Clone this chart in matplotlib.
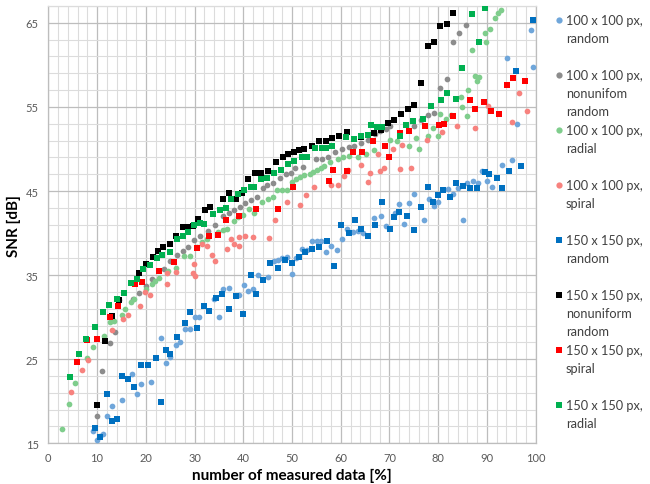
import matplotlib
matplotlib.use("Agg")
import matplotlib.pyplot as plt
from matplotlib.lines import Line2D

plt.rcParams['font.family'] = ['Lato', 'DejaVu Sans']

# 100 x 100 px, random
r100_x = [9.1, 10.05, 10.6, 11.2, 12.0, 13.1, 15.2, 17.1, 18.1, 19.1, 21.1, 23.1, 24.1, 25.0, 26.2,
          27.0, 28.0, 29.1, 30.1, 31.0, 33.9, 35.1, 35.9, 37.1, 39.1, 40.2, 41.0, 41.9, 43.1, 45.1,
          46.3, 47.2, 48.0, 49.0, 50.1, 50.8, 52.0, 53.1, 54.1, 55.1, 56.0, 57.0, 58.1, 59.2, 60.2,
          61.2, 62.6, 63.6, 64.6, 66.9, 68.3, 69.2, 71.1, 72.0, 73.0, 74.1, 75.1, 77.0, 78.2, 79.2,
          80.0, 82.1, 83.1, 84.1, 85.1, 86.0, 87.1, 88.2, 89.0, 90.1, 91.1, 93.1, 94.1, 95.1, 96.1,
          99.0, 99.5]
r100_y = [16.5, 15.4, 15.9, 16.1, 18.3, 19.4, 20.2, 23.3, 20.9, 22.1, 22.3, 27.5, 24.5, 25.3, 26.7,
          27.0, 28.6, 28.6, 30.0, 30.0, 32.1, 30.0, 33.3, 33.5, 32.6, 33.8, 33.1, 33.3, 35.0, 34.8,
          36.7, 36.8, 37.0, 37.2, 35.1, 37.0, 38.1, 38.0, 39.0, 39.0, 39.0, 37.7, 38.5, 38.0, 39.3,
          40.5, 40.1, 40.3, 40.0, 41.8, 42.0, 40.8, 42.4, 43.5, 41.1, 43.6, 44.6, 41.6, 44.1, 43.2,
          43.7, 45.2, 44.6, 45.4, 41.6, 45.9, 46.2, 45.9, 47.4, 46.2, 45.5, 48.1, 60.8, 48.7, 53.0,
          64.1, 59.8]

# 100 x 100 px, nonuniform random
n100_x = [10.05, 11.1, 12.7, 13.7, 14.5, 17.4, 18.7, 20.0, 21.2, 23.8, 25.0, 26.5, 27.7, 28.7, 29.9,
          31.1, 32.8, 34.2, 35.8, 37.1, 38.2, 39.3, 40.4, 41.6, 42.9, 44.0, 44.9, 46.2, 47.5, 48.7,
          49.7, 50.7, 52.2, 54.9, 56.2, 57.3, 58.8, 60.3, 61.6, 62.8, 64.1, 65.5, 67.0, 68.1, 69.3,
          70.2, 75.1, 76.4, 77.8, 79.1, 80.4, 81.8, 83.1, 84.3, 85.6]
n100_y = [18.2, 23.6, 26.9, 28.2, 32.0, 32.2, 32.9, 33.7, 34.5, 35.7, 36.7, 37.4, 37.9, 38.4, 39.2,
          39.7, 40.3, 41.0, 42.0, 42.4, 42.8, 43.1, 43.6, 43.9, 44.3, 45.4, 45.7, 46.0, 46.5, 47.0,
          47.2, 47.7, 47.9, 48.8, 48.8, 49.1, 49.6, 50.0, 50.2, 50.4, 50.7, 51.1, 51.8, 52.1, 52.4,
          52.7, 52.7, 53.4, 54.0, 54.3, 57.2, 58.3, 62.7, 63.8, 64.7]

# 100 x 100 px, radial
a100_x = [2.75, 4.2, 5.5, 7.9, 9.2, 11.5, 12.7, 13.5, 15.1, 15.7, 17.0, 17.6, 20.0, 21.2, 21.9,
          22.7, 24.6, 26.3, 27.8, 29.1, 30.6, 31.5, 32.6, 34.8, 35.8, 36.6, 38.2, 39.0, 39.9, 41.2,
          42.1, 43.8, 45.0, 46.0, 46.9, 47.9, 48.9, 49.9, 50.8, 51.6, 52.5, 53.7, 54.4, 55.2, 56.0,
          56.6, 57.8, 59.5, 60.4, 61.6, 63.6, 65.2, 66.8, 70.2, 71.5, 74.0, 75.4, 76.1, 78.0, 78.9,
          80.0, 80.4, 81.5, 82.6, 84.7, 84.8, 85.8, 86.2, 86.9, 87.5, 88.0, 88.4, 89.6, 89.9, 90.6,
          91.6, 92.3, 92.9]
a100_y = [16.7, 19.7, 22.2, 25.2, 26.5, 27.8, 29.4, 29.6, 30.2, 31.0, 31.8, 32.1, 33.3, 34.0, 34.3,
          34.6, 35.5, 35.9, 37.3, 37.3, 38.4, 38.9, 39.3, 40.1, 40.4, 40.5, 41.4, 41.9, 42.2, 42.9,
          42.4, 43.7, 44.0, 44.3, 45.1, 45.1, 45.1, 46.1, 46.4, 46.7, 46.9, 47.0, 47.3, 47.5, 47.7,
          48.0, 48.4, 48.8, 49.1, 49.2, 49.0, 49.4, 49.9, 51.1, 50.9, 50.3, 51.3, 50.0, 51.5, 52.5,
          51.5, 54.2, 53.6, 54.0, 56.2, 55.0, 53.9, 57.0, 61.8, 58.7, 58.1, 58.6, 63.8, 62.7, 64.3,
          65.6, 66.2, 66.5]

# 100 x 100 px, spiral
s100_x = [4.6, 6.85, 8.2, 13.0, 15.4, 16.4, 18.8, 19.8, 20.9, 24.3, 24.4, 26.2, 29.6, 29.9, 30.1,
          31.6, 32.5, 33.5, 34.3, 36.7, 37.4, 38.0, 39.1, 39.2, 40.4, 41.9, 45.2, 46.6, 48.9, 51.6,
          52.9, 54.5, 58.0, 59.5, 60.7, 61.4, 64.1, 65.5, 66.1, 67.7, 68.1, 68.9, 70.8, 72.2, 72.5,
          74.4, 77.6, 80.8, 83.9, 87.6, 90.3, 95.1, 96.6, 98.2]
s100_y = [21.1, 23.7, 24.9, 28.5, 29.8, 30.2, 31.3, 33.0, 32.6, 33.9, 35.2, 35.4, 35.2, 36.3, 34.9,
          38.7, 38.5, 37.4, 36.7, 38.1, 39.3, 38.7, 38.5, 39.5, 39.6, 39.5, 39.4, 41.6, 43.7, 43.3,
          44.5, 45.5, 45.7, 45.7, 46.8, 47.5, 48.1, 46.1, 47.1, 49.4, 47.4, 47.7, 50.0, 47.6, 50.5,
          47.7, 51.1, 52.0, 52.7, 52.5, 55.1, 53.2, 56.6, 54.5]

# 150 x 150 px, random
r150_x = [9.6, 10.6, 12.0, 13.0, 14.0, 15.1, 16.4, 17.5, 19.0, 20.5, 22.1, 23.1, 24.1, 25.0, 26.5,
          28.0, 29.1, 30.5, 32.0, 33.0, 34.5, 35.6, 37.1, 38.5, 40.0, 41.5, 42.6, 44.1, 45.5, 47.1,
          48.6, 49.9, 51.5, 52.6, 54.0, 55.6, 57.1, 58.6, 60.1, 61.6, 63.0, 64.1, 65.5, 67.0, 68.5,
          70.1, 70.9, 72.0, 73.5, 75.0, 76.5, 78.0, 79.0, 80.0, 81.0, 82.5, 83.6, 85.0, 86.5, 88.0,
          89.5, 90.4, 92.0, 93.0, 94.6, 96.0, 97.0, 99.5]
r150_y = [16.8, 15.8, 20.9, 17.7, 17.9, 23.0, 22.7, 21.7, 24.3, 24.3, 25.2, 19.9, 26.1, 25.6, 27.6,
          29.3, 30.6, 28.7, 31.3, 30.7, 32.3, 32.8, 31.0, 32.5, 30.4, 35.0, 32.8, 34.4, 36.4, 35.9,
          36.8, 36.4, 37.2, 37.7, 38.1, 38.3, 39.0, 36.1, 40.9, 40.0, 41.5, 40.5, 39.7, 40.9, 43.7,
          40.5, 41.9, 42.5, 42.0, 40.4, 43.1, 45.5, 43.7, 44.5, 45.1, 44.3, 46.0, 45.6, 45.4, 45.4,
          47.3, 47.0, 46.6, 45.3, 47.4, 59.3, 48.0, 65.3]

# 150 x 150 px, nonuniform random
n150_x = [10.05, 11.6, 13.0, 14.5, 18.6, 20.0, 21.5, 22.6, 23.6, 25.0, 26.1, 27.7, 28.5, 29.7, 30.8,
          32.2, 33.2, 35.9, 37.1, 38.5, 39.7, 41.0, 42.4, 43.6, 45.1, 46.7, 48.1, 49.2, 50.4, 51.5,
          52.5, 54.0, 55.6, 56.9, 58.3, 59.7, 61.2, 64.1, 66.9, 68.3, 69.6, 70.9, 72.4, 73.7, 75.1,
          76.5, 77.8, 79.1, 80.4, 81.8, 83.0]
n150_y = [19.6, 27.2, 30.1, 32.0, 35.2, 36.3, 37.2, 37.9, 38.4, 38.7, 39.7, 40.7, 40.7, 40.8, 41.7,
          42.7, 43.1, 44.1, 44.8, 44.0, 44.8, 46.4, 47.2, 47.2, 47.4, 48.4, 49.0, 49.4, 49.6, 49.9,
          50.0, 50.3, 50.9, 51.0, 51.3, 51.5, 52.0, 51.4, 51.9, 52.3, 53.1, 53.4, 54.2, 54.8, 55.2,
          57.8, 62.2, 62.7, 64.6, 64.9, 66.2]

# 150 x 150 px, spiral
s150_x = [5.95, 8.0, 9.9, 12.7, 14.3, 17.8, 19.2, 22.8, 25.8, 30.6, 33.0, 34.9, 36.5, 39.1, 42.6,
          47.2, 50.3, 57.6, 58.5, 61.2, 62.5, 64.3, 66.6, 69.0, 70.0, 72.2, 73.9, 77.3, 80.1, 81.1,
          83.1, 86.5, 87.6, 89.4, 90.8, 92.5, 94.1, 95.4, 97.7]
s150_y = [24.7, 27.3, 27.4, 30.0, 31.3, 33.9, 34.2, 35.5, 36.6, 38.2, 39.6, 39.8, 41.6, 42.0, 42.9,
          42.9, 45.5, 46.2, 47.5, 47.4, 49.6, 49.6, 50.9, 50.4, 49.1, 51.9, 52.1, 52.7, 52.9, 53.0,
          53.9, 55.8, 54.7, 55.6, 54.5, 54.2, 57.6, 58.4, 58.1]

# 150 x 150 px, radial
a150_x = [4.5, 6.2, 7.8, 9.6, 11.2, 12.5, 14.0, 15.6, 17.0, 18.3, 19.4, 20.9, 22.2, 23.4, 25.0,
          26.5, 27.6, 28.7, 29.9, 31.1, 31.9, 33.7, 35.2, 36.5, 37.5, 39.0, 40.2, 41.5, 42.3, 43.6,
          44.8, 46.3, 47.7, 49.2, 50.5, 52.1, 53.1, 54.7, 56.1, 57.0, 58.3, 61.1, 62.7, 64.2, 65.5,
          66.3, 67.5, 68.4, 72.2, 73.3, 74.9, 76.9, 78.5, 80.5, 81.8, 83.6, 84.9, 86.9, 88.3, 89.5]
a150_y = [22.9, 25.6, 27.4, 28.8, 30.6, 31.5, 32.1, 32.9, 34.1, 34.5, 35.7, 36.2, 37.0, 37.4, 37.8,
          39.3, 39.7, 40.1, 41.0, 41.2, 41.1, 42.3, 42.7, 43.0, 44.1, 44.7, 45.1, 45.5, 45.5, 46.4,
          46.5, 47.2, 47.5, 48.2, 48.6, 49.0, 49.0, 50.1, 50.1, 50.1, 50.3, 51.4, 51.2, 51.5, 51.7,
          52.8, 52.6, 52.6, 51.5, 52.8, 53.3, 53.6, 55.1, 55.8, 56.7, 55.9, 59.6, 66.1, 62.7, 66.8]

labels = ['100 x 100 px,\nrandom', '100 x 100 px,\nnonunifom\nrandom', '100 x 100 px,\nradial',
          '100 x 100 px,\nspiral', '150 x 150 px,\nrandom', '150 x 150 px,\nnonuniform\nrandom',
          '150 x 150 px,\nspiral', '150 x 150 px,\nradial']
colors = ['#6FA6DA', '#8C8C8C', '#7FCD8C', '#F7827E', '#0070C0', '#000000', '#FF0000', '#00B050']
markers = ['o', 'o', 'o', 'o', 's', 's', 's', 's']
series = [(r100_x, r100_y), (n100_x, n100_y), (a100_x, a100_y), (s100_x, s100_y),
          (r150_x, r150_y), (n150_x, n150_y), (s150_x, s150_y), (a150_x, a150_y)]

fig = plt.figure(figsize=(6.5, 4.85), dpi=100)
ax = fig.add_axes([0.0743, 0.0839, 0.7499, 0.9017])

for (xs, ys), col, mk in zip(series, colors, markers):
    size = 22 if mk == 's' else 17
    ax.scatter(xs, ys, s=size, marker=mk, color=col, linewidths=0, zorder=3)

ax.set_xlim(0, 100)
ax.set_ylim(15, 67)
ax.set_xticks(range(0, 101, 10))
ax.set_xticks(range(0, 101, 2), minor=True)
ax.set_yticks(range(15, 66, 10))
ax.set_yticks(range(15, 68, 2), minor=True)
ax.grid(which='major', color='#BDBDBD', lw=0.9, zorder=0)
ax.grid(which='minor', color='#DCDCDC', lw=0.8, zorder=0)
ax.set_axisbelow(True)
for side in ax.spines:
    ax.spines[side].set_color('#BDBDBD')
    ax.spines[side].set_linewidth(0.9)
ax.spines['top'].set_color('#DCDCDC')
ax.tick_params(which='both', length=0, labelsize=8, labelcolor='#595959')
ax.tick_params(axis='y', pad=7)
ax.tick_params(axis='x', pad=6)

ax.set_xlabel('number of measured data [%]', fontsize=11, fontweight='bold', labelpad=4)
ax.set_ylabel('SNR [dB]', fontsize=11, fontweight='bold', labelpad=3)

# legend on the right, one entry every 55 px
W, H = 650.0, 485.0
for i, (lab, col, mk) in enumerate(zip(labels, colors, markers)):
    y0 = 21 + 55 * i
    fig.add_artist(Line2D([559 / W], [1 - y0 / H], transform=fig.transFigure, ls='',
                          marker=mk, markersize=4.5, color=col, markeredgewidth=0))
    for j, line in enumerate(lab.split('\n')):
        fig.text(566 / W, 1 - (y0 + 18 * j) / H, line, fontsize=9.2, color='#404040',
                 va='center', ha='left')

fig.savefig('out.png', dpi=100)
